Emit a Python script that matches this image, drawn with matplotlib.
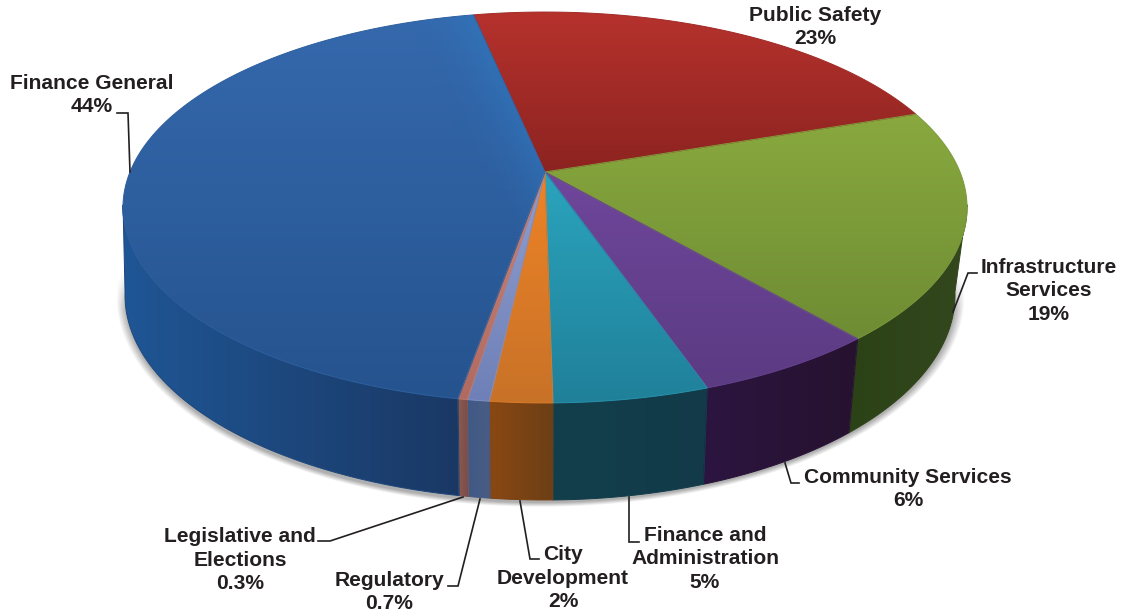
import numpy as np
import matplotlib
matplotlib.use("Agg")
import matplotlib.pyplot as plt
from matplotlib.colors import LinearSegmentedColormap, to_rgb
from matplotlib.patches import Polygon

plt.rcParams['font.family'] = ['Liberation Sans', 'DejaVu Sans']

# budget shares, clockwise from the back of the pie
names = ["Public Safety", "Infrastructure\nServices", "Community Services",
         "Finance and\nAdministration", "City\nDevelopment", "Regulatory",
         "Legislative and\nElections", "Finance General"]
shares = [23, 19, 6, 5, 2, 0.7, 0.3, 44]

top_colors = [("#b6322d", "#8c2320"), ("#89a93f", "#6e8c33"), ("#6f469c", "#5b3b82"),
              ("#2ba4bd", "#20809a"), ("#ee8326", "#c87228"), ("#8f9fd0", "#6f80b8"),
              ("#c98478", "#b06a60"), ("#3569ad", "#25538e")]
wall_colors = [("#5a1512", "#5a1512"), ("#2b4216", "#34471e"), ("#2c1540", "#26122f"),
               ("#133f4c", "#123a48"), ("#8a4812", "#6c3f16"), ("#3f5a86", "#4a5c84"),
               ("#8a5a52", "#7a4c48"), ("#1f5695", "#1a3864")]

# label centre and the leader line that runs from the label to the pie
label_pos = [(815, 27), (1049, 291), (908, 489), (705, 559), (563, 578), (389, 592), (240, 560), (92, 95)]
leaders = [None,
           [(977, 273), (968, 273), (953, 312)],
           [(785, 463), (791, 483), (799, 483)],
           [(629, 497), (629, 542), (639, 542)],
           [(520, 501), (530, 559), (539, 559)],
           [(480, 499), (458, 586), (448, 586)],
           [(463, 497), (330, 541), (318, 541)],
           [(117, 113), (128, 113), (130, 172)]]

start_angle = -11.7
apex_x, apex_y = 545, 172
persp = 0.1816
a, b = 415, 189
top_cx, top_cy, top_a, top_b = 545, 207.5, 422, 195.5
bot_cx, bot_cy, bot_a, bot_b = 540, 295, 415, 205


def rim(t):
    # point on the top rim for an angle measured clockwise from the back
    X, Y = np.sin(t), -np.cos(t)
    den = 1 - persp * Y
    return apex_x + a * X / den, apex_y + b * Y / den


def base(x, y):
    # matching point on the lower edge of the wall
    phi = np.arctan2((y - top_cy) / top_b, (x - top_cx) / top_a)
    s = np.clip(np.sin(phi), 0, 1)
    return bot_cx + 5 * s**3 + bot_a * np.cos(phi), bot_cy + bot_b * np.sin(phi)


def fill_gradient(ax, pts, c0, c1, vertical, z):
    cmap = LinearSegmentedColormap.from_list("g", [c0, c1])
    x0, y0 = pts.min(axis=0)
    x1, y1 = pts.max(axis=0)
    grad = np.linspace(0, 1, 256)
    grad = grad[:, None] if vertical else grad[None, :]
    im = ax.imshow(grad, cmap=cmap, extent=(x0, x1, y1, y0), aspect="auto", zorder=z, interpolation="bilinear")
    edge = cmap(0.5)
    ax.add_patch(Polygon(pts, closed=True, fc="none", ec=edge, lw=0.7, zorder=z + 0.1))
    im.set_clip_path(Polygon(pts, closed=True, transform=ax.transData))


fig = plt.figure(figsize=(11.22, 6.15), dpi=100)
ax = fig.add_axes([0, 0, 1, 1])
ax.axis("off")

yy, xx = np.mgrid[0:615, 0:1122]

# soft shadow under the lower half of the base
r = np.sqrt(((xx - 540) / bot_a) ** 2 + ((yy - 297) / bot_b) ** 2)
shadow = np.zeros((615, 1122, 4))
shadow[..., :3] = 0.3
shadow[..., 3] = 0.45 * np.clip((1.022 - r) / 0.022, 0, 1) * np.clip((yy - 270) / 40, 0, 1)
ax.imshow(shadow, extent=(0, 1122, 615, 0), aspect="auto", zorder=1)

edges = np.radians(start_angle + np.cumsum([0] + shares) * 3.6)
for i in range(len(shares)):
    t = np.linspace(edges[i], edges[i + 1], max(int(shares[i] * 8), 6))
    x, y = rim(t)

    # wall, only the part that faces the front
    front = (y - top_cy) > -3
    if front.sum() > 1:
        bx, by = base(x[front], y[front])
        wall = np.vstack([np.c_[x[front], y[front]], np.c_[bx, by][::-1]])
        fill_gradient(ax, wall, wall_colors[i][0], wall_colors[i][1], False, 2)

    face = np.vstack([[apex_x, apex_y], np.c_[x, y]])
    fill_gradient(ax, face, top_colors[i][0], top_colors[i][1], True, 3)

    # sheen along the upper edge of the large slice
    if names[i] == "Finance General":
        ex, ey = x[-1], y[-1]
        nlen = np.hypot(ex - apex_x, ey - apex_y)
        dist = np.abs((ex - apex_x) * (yy - apex_y) - (ey - apex_y) * (xx - apex_x)) / nlen
        sheen = np.zeros((615, 1122, 4))
        sheen[..., :3] = to_rgb("#2f7fc8")
        sheen[..., 3] = 0.4 * np.clip(1 - dist / 70, 0, 1) ** 2
        im = ax.imshow(sheen, extent=(0, 1122, 615, 0), aspect="auto", zorder=3.2)
        im.set_clip_path(Polygon(face, closed=True, transform=ax.transData))

for i in range(len(shares)):
    if leaders[i] is not None:
        lx, ly = zip(*leaders[i])
        ax.plot(lx, ly, color="#231f20", lw=1.2, zorder=5, solid_joinstyle="miter")
    ax.text(label_pos[i][0], label_pos[i][1], f"{names[i]}\n{shares[i]:g}%", ha="center", va="center",
            multialignment="center", fontsize=15.1, fontweight="bold", color="#231f20",
            linespacing=1.33, zorder=6)

ax.set_xlim(0, 1122)
ax.set_ylim(615, 0)
fig.savefig("out.png", dpi=100, facecolor="white")
